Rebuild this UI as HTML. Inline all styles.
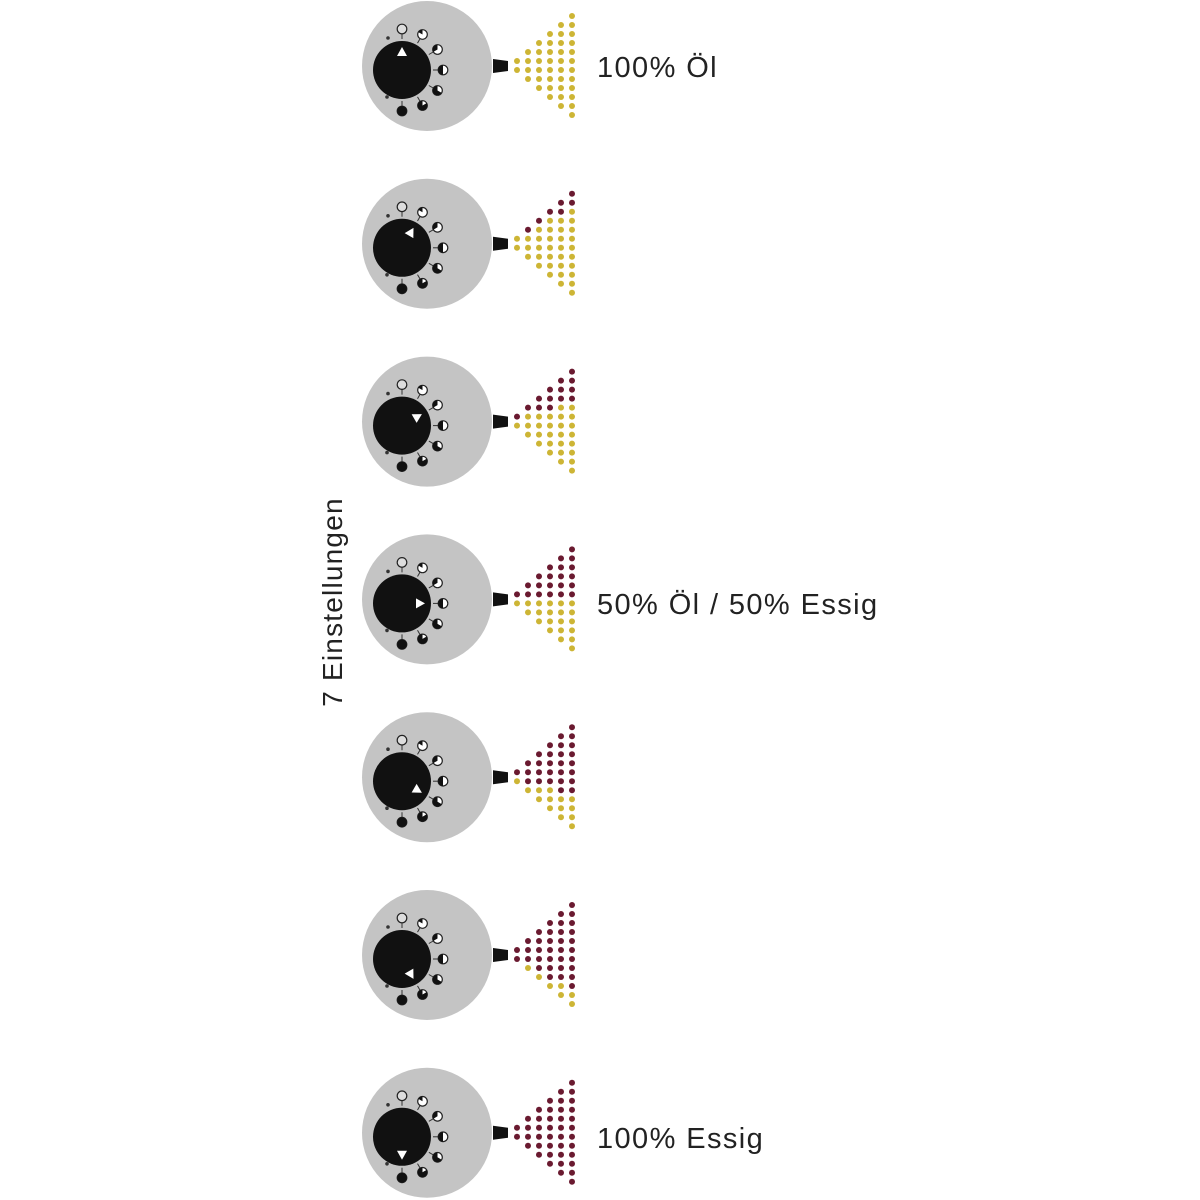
<!DOCTYPE html>
<html><head><meta charset="utf-8"><style>
html,body{margin:0;padding:0;background:#fff;}
body{width:1200px;height:1200px;position:relative;overflow:hidden;font-family:"Liberation Sans",sans-serif;}
.t{position:absolute;font-size:29px;letter-spacing:1.4px;color:#222;white-space:nowrap;line-height:1;}
#v{position:absolute;left:333px;top:602px;transform:translate(-50%,-50%) rotate(-90deg);font-size:28px;letter-spacing:1.2px;color:#222;white-space:nowrap;line-height:1;}
svg{position:absolute;left:0;top:0;}
</style></head><body>
<svg id="s" width="1200" height="1200" xmlns="http://www.w3.org/2000/svg"></svg>
<div class="t" style="left:597px;top:54px">100% Öl</div>
<div class="t" style="left:597px;top:591px">50% Öl / 50% Essig</div>
<div class="t" style="left:597px;top:1125px">100% Essig</div>
<div id="v">7 Einstellungen</div>
<script>
var s=document.getElementById('s'),h='';
var Y='#cdb535',M='#6a1a30';
for(var k=0;k<7;k++){
 var cy=66+k*177.8,cx=427,kx=402,ky=cy+4;
 h+='<circle cx="'+cx+'" cy="'+cy+'" r="65" fill="#c4c4c4"/>';
 h+='<path d="M493 '+(cy-7)+' L508 '+(cy-5)+' L508 '+(cy+5)+' L493 '+(cy+7)+' Z" fill="#111"/>';
 h+='<circle cx="'+kx+'" cy="'+ky+'" r="29" fill="#111"/>';
 for(var m=0;m<7;m++){
  var a=m*30*Math.PI/180,px=kx+41*Math.sin(a),py=ky-41*Math.cos(a);
  var f=m/6;
  h+='<line x1="'+(kx+31*Math.sin(a))+'" y1="'+(ky-31*Math.cos(a))+'" x2="'+px+'" y2="'+py+'" stroke="#333" stroke-width="1"/>';
  h+='<circle cx="'+px+'" cy="'+py+'" r="4.8" fill="'+(m==0?'#ddd':'#fff')+'" stroke="#222" stroke-width="1.2"/>';
  if(m>0){h+='<path d="M'+px+' '+(py-4.8)+' A4.8 4.8 0 '+(f>0.5?1:0)+' 0 '+(px-4.8*Math.sin(f*2*Math.PI))+' '+(py-4.8*Math.cos(f*2*Math.PI))+' L'+px+' '+py+' Z" fill="#111"/>';}
  if(m==6)h+='<circle cx="'+px+'" cy="'+py+'" r="4.8" fill="#111"/>';
 }
 h+='<circle cx="'+(kx-14)+'" cy="'+(ky-32)+'" r="1.8" fill="#333"/><circle cx="'+(kx-15)+'" cy="'+(ky+27)+'" r="1.8" fill="#333"/>';
 var a=k*30*Math.PI/180,sn=Math.sin(a),cs=Math.cos(a);
 function P(r,o){return (kx+r*sn+o*cs)+','+(ky-r*cs+o*sn);}
 h+='<polygon points="'+P(23,0)+' '+P(14,-5)+' '+P(14,5)+'" fill="#fff"/>';
 var fr=k/6;
 for(var j=0;j<6;j++){
  var n=2*j+2,x=517+j*11;
  var nm=Math.round(fr*n);
  for(var i=0;i<n;i++){
   var y=cy-0.5-(n-1)*4.5+i*9;
   h+='<circle cx="'+x+'" cy="'+y+'" r="3" fill="'+(i<nm?M:Y)+'"/>';
  }
 }
}
s.innerHTML=h;
</script>
</body></html>
